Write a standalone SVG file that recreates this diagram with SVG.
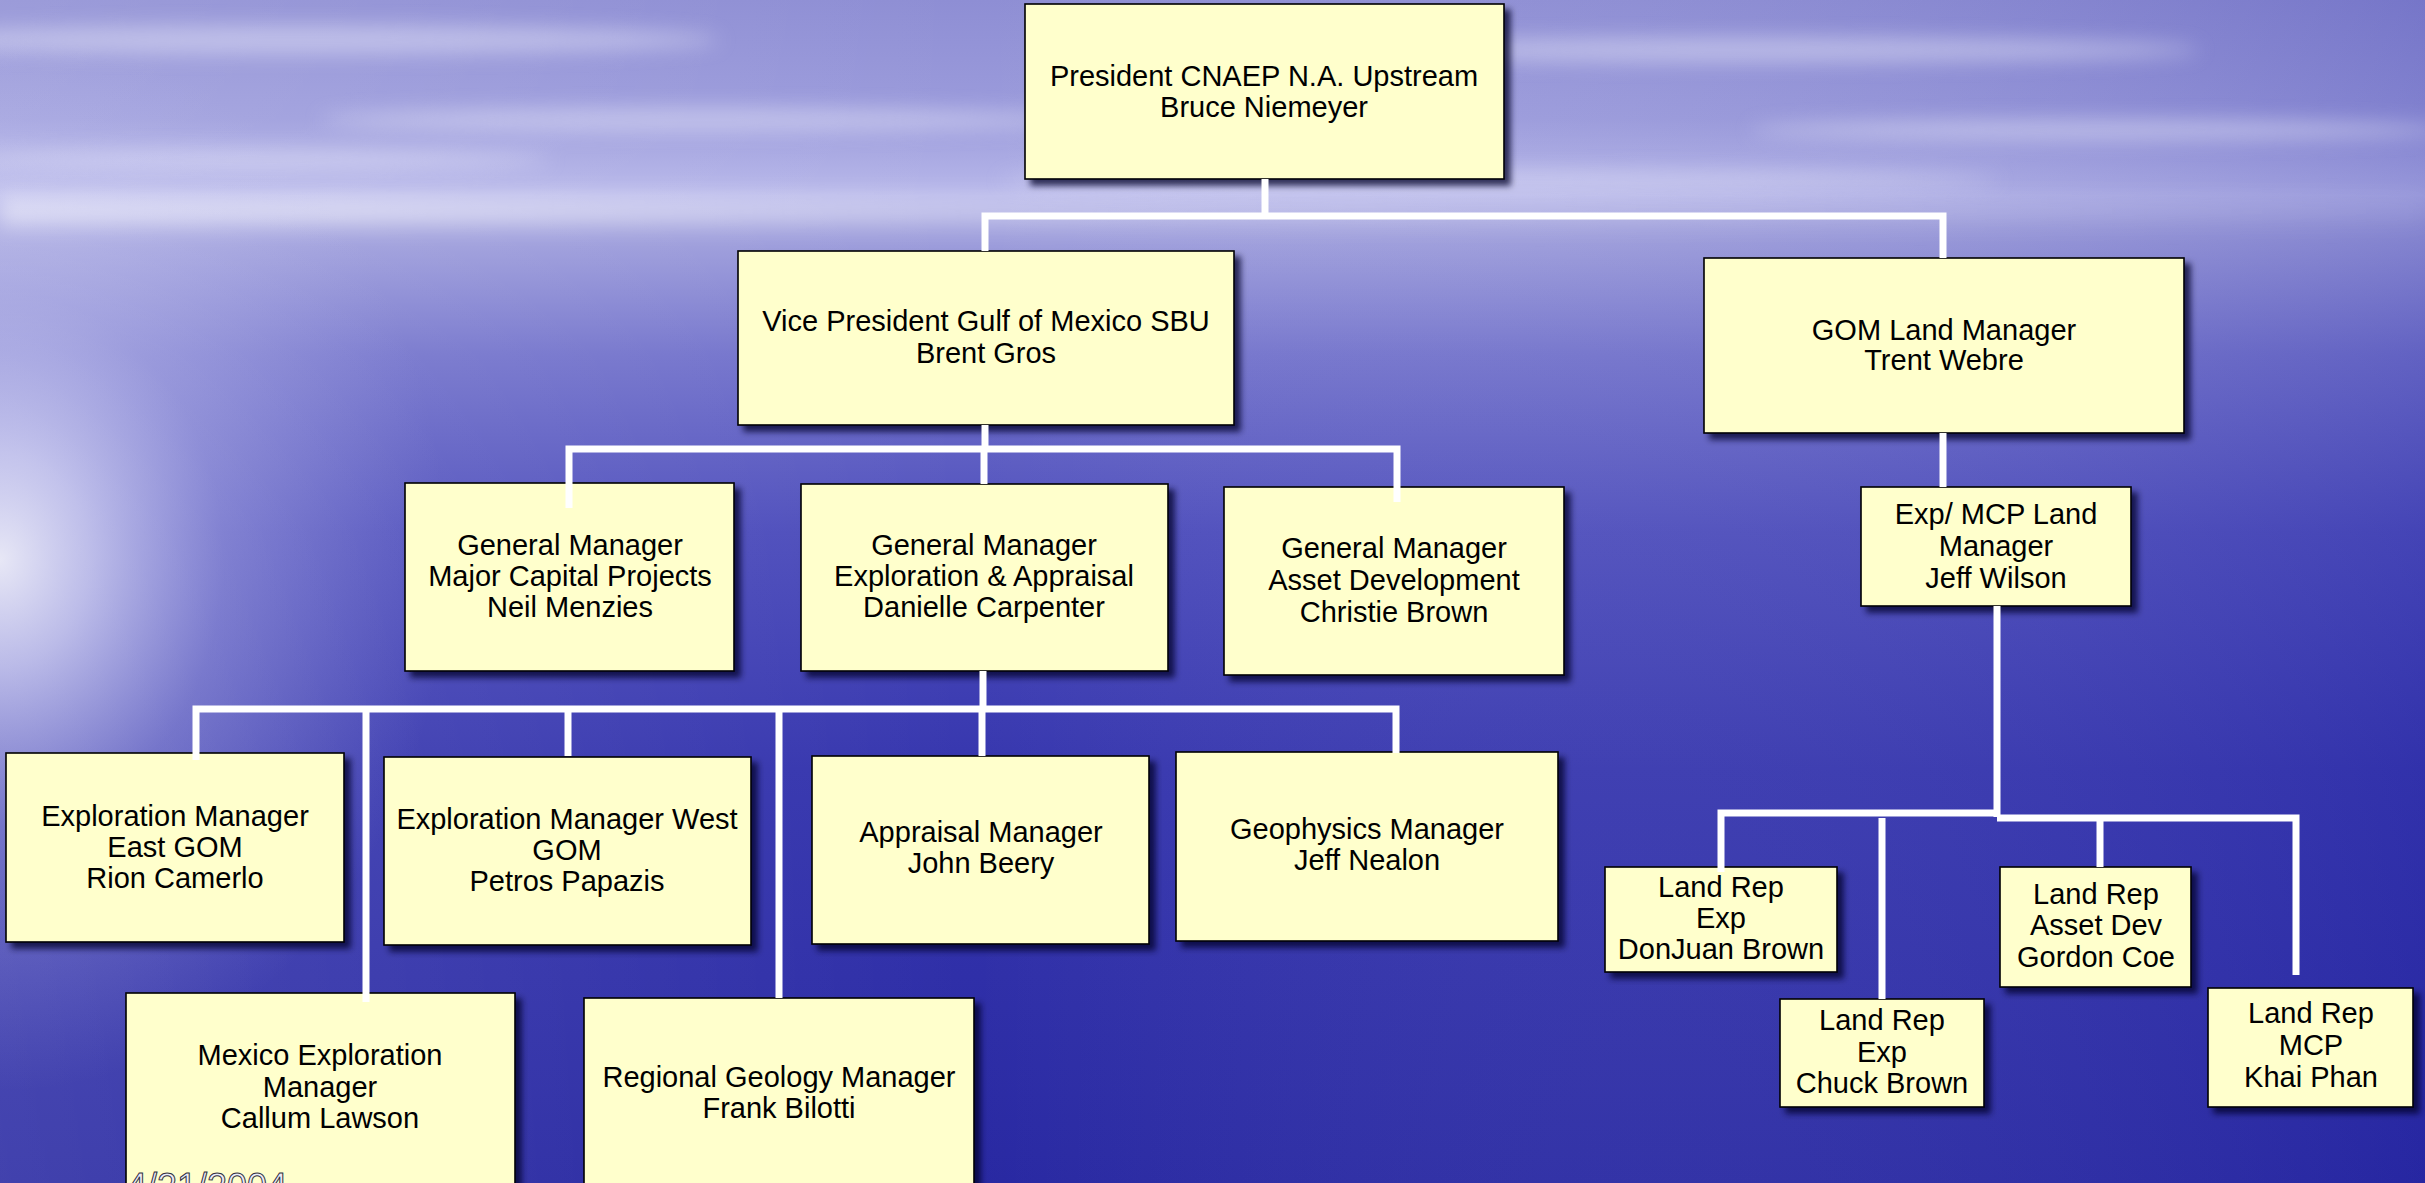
<svg xmlns="http://www.w3.org/2000/svg" width="2425" height="1183" viewBox="0 0 2425 1183">
  <defs>
    <linearGradient id="sky" x1="0" y1="0" x2="0" y2="1">
      <stop offset="0" stop-color="#8e8ed4"/>
      <stop offset="0.10" stop-color="#9c9cdc"/>
      <stop offset="0.165" stop-color="#b8b8ea"/>
      <stop offset="0.19" stop-color="#a4a4de"/>
      <stop offset="0.30" stop-color="#7474cc"/>
      <stop offset="0.45" stop-color="#4e4ebc"/>
      <stop offset="0.65" stop-color="#3636ae"/>
      <stop offset="1" stop-color="#2828a2"/>
    </linearGradient>
    <linearGradient id="side" x1="0" y1="0" x2="1" y2="0">
      <stop offset="0" stop-color="#ffffff" stop-opacity="0.12"/>
      <stop offset="0.4" stop-color="#ffffff" stop-opacity="0"/>
      <stop offset="1" stop-color="#2020a0" stop-opacity="0.22"/>
    </linearGradient>
    <radialGradient id="glare" cx="0" cy="560" r="560" gradientUnits="userSpaceOnUse" gradientTransform="translate(0 560) scale(0.8 0.95) translate(0 -560)">
      <stop offset="0" stop-color="#ffffff" stop-opacity="0.85"/>
      <stop offset="0.2" stop-color="#f0f0ff" stop-opacity="0.65"/>
      <stop offset="0.5" stop-color="#d4d4f6" stop-opacity="0.3"/>
      <stop offset="1" stop-color="#c0c0f0" stop-opacity="0"/>
    </radialGradient>
    <linearGradient id="horizon" x1="0" y1="0" x2="1" y2="0">
      <stop offset="0" stop-color="#ffffff" stop-opacity="0.55"/>
      <stop offset="0.5" stop-color="#ffffff" stop-opacity="0.2"/>
      <stop offset="1" stop-color="#ffffff" stop-opacity="0.05"/>
    </linearGradient>
    <filter id="blur" x="-20%" y="-200%" width="140%" height="500%">
      <feGaussianBlur stdDeviation="10"/>
    </filter>
    <filter id="shadow" x="-10%" y="-10%" width="125%" height="130%">
      <feDropShadow dx="6" dy="6" stdDeviation="3" flood-color="#00002a" flood-opacity="0.75"/>
    </filter>
    <style>
      .box { fill: #ffffcc; stroke: #000000; stroke-width: 1.6; filter: url(#shadow); }
      .t { font-family: "Liberation Sans", Arial, sans-serif; font-size: 29px; fill: #000000; text-anchor: middle; }
      .con { fill: none; stroke: #ffffff; stroke-width: 7; stroke-linejoin: miter; stroke-linecap: butt; }
      .date { font-family: "Liberation Sans", Arial, sans-serif; font-size: 36px; fill: #ececf8; stroke: #303040; stroke-width: 1; }
    </style>
  </defs>

  <g id="background">
    <rect x="0" y="0" width="2425" height="1183" fill="url(#sky)"/>
    <rect x="0" y="0" width="2425" height="1183" fill="url(#side)"/>
    <g filter="url(#blur)" fill="#e4e4f8" opacity="0.5">
      <ellipse cx="300" cy="40" rx="420" ry="14"/>
      <ellipse cx="700" cy="120" rx="380" ry="12"/>
      <ellipse cx="250" cy="160" rx="300" ry="10"/>
      <ellipse cx="1750" cy="50" rx="450" ry="12"/>
      <ellipse cx="2100" cy="130" rx="350" ry="10"/>
      <ellipse cx="1500" cy="180" rx="500" ry="9"/>
    </g>
    <rect x="0" y="196" width="2425" height="30" fill="url(#horizon)" filter="url(#blur)"/>
    <rect x="0" y="0" width="2425" height="1183" fill="url(#glare)"/>
  </g>

  <g id="nodes">
    <g id="president">
      <rect class="box" x="1025" y="4" width="479" height="175"/>
      <text class="t" x="1264" y="86">President CNAEP N.A. Upstream</text>
      <text class="t" x="1264" y="117">Bruce Niemeyer</text>
    </g>
    <g id="vp-gom">
      <rect class="box" x="738" y="251" width="496" height="174"/>
      <text class="t" x="986" y="331">Vice President Gulf of Mexico SBU</text>
      <text class="t" x="986" y="363">Brent Gros</text>
    </g>
    <g id="gom-land">
      <rect class="box" x="1704" y="258" width="480" height="175"/>
      <text class="t" x="1944" y="340">GOM Land Manager</text>
      <text class="t" x="1944" y="370">Trent Webre</text>
    </g>
    <g id="exp-mcp-land">
      <rect class="box" x="1861" y="487" width="270" height="119"/>
      <text class="t" x="1996" y="524">Exp/ MCP Land</text>
      <text class="t" x="1996" y="556">Manager</text>
      <text class="t" x="1996" y="588">Jeff Wilson</text>
    </g>
    <g id="gm-mcp">
      <rect class="box" x="405" y="483" width="329" height="188"/>
      <text class="t" x="570" y="555">General Manager</text>
      <text class="t" x="570" y="586">Major Capital Projects</text>
      <text class="t" x="570" y="617">Neil Menzies</text>
    </g>
    <g id="gm-ea">
      <rect class="box" x="801" y="484" width="367" height="187"/>
      <text class="t" x="984" y="555">General Manager</text>
      <text class="t" x="984" y="586">Exploration &amp; Appraisal</text>
      <text class="t" x="984" y="617">Danielle Carpenter</text>
    </g>
    <g id="gm-ad">
      <rect class="box" x="1224" y="487" width="340" height="188"/>
      <text class="t" x="1394" y="558">General Manager</text>
      <text class="t" x="1394" y="590">Asset Development</text>
      <text class="t" x="1394" y="622">Christie Brown</text>
    </g>
    <g id="exp-east">
      <rect class="box" x="6" y="753" width="338" height="189"/>
      <text class="t" x="175" y="826">Exploration Manager</text>
      <text class="t" x="175" y="857">East GOM</text>
      <text class="t" x="175" y="888">Rion Camerlo</text>
    </g>
    <g id="exp-west">
      <rect class="box" x="384" y="757" width="367" height="188"/>
      <text class="t" x="567" y="829">Exploration Manager West</text>
      <text class="t" x="567" y="860">GOM</text>
      <text class="t" x="567" y="891">Petros Papazis</text>
    </g>
    <g id="appraisal">
      <rect class="box" x="812" y="756" width="337" height="188"/>
      <text class="t" x="981" y="842">Appraisal Manager</text>
      <text class="t" x="981" y="873">John Beery</text>
    </g>
    <g id="geophysics">
      <rect class="box" x="1176" y="752" width="382" height="189"/>
      <text class="t" x="1367" y="839">Geophysics Manager</text>
      <text class="t" x="1367" y="870">Jeff Nealon</text>
    </g>
    <g id="mexico">
      <rect class="box" x="126" y="993" width="389" height="200"/>
      <text class="t" x="320" y="1065">Mexico Exploration</text>
      <text class="t" x="320" y="1097">Manager</text>
      <text class="t" x="320" y="1128">Callum Lawson</text>
    </g>
    <g id="regional">
      <rect class="box" x="584" y="998" width="390" height="200"/>
      <text class="t" x="779" y="1087">Regional Geology Manager</text>
      <text class="t" x="779" y="1118">Frank Bilotti</text>
    </g>
    <g id="landrep-donjuan">
      <rect class="box" x="1605" y="867" width="232" height="105"/>
      <text class="t" x="1721" y="897">Land Rep</text>
      <text class="t" x="1721" y="928">Exp</text>
      <text class="t" x="1721" y="959">DonJuan Brown</text>
    </g>
    <g id="landrep-chuck">
      <rect class="box" x="1780" y="999" width="204" height="108"/>
      <text class="t" x="1882" y="1030">Land Rep</text>
      <text class="t" x="1882" y="1062">Exp</text>
      <text class="t" x="1882" y="1093">Chuck Brown</text>
    </g>
    <g id="landrep-gordon">
      <rect class="box" x="2000" y="867" width="191" height="120"/>
      <text class="t" x="2096" y="904">Land Rep</text>
      <text class="t" x="2096" y="935">Asset Dev</text>
      <text class="t" x="2096" y="967">Gordon Coe</text>
    </g>
    <g id="landrep-khai">
      <rect class="box" x="2208" y="988" width="205" height="119"/>
      <text class="t" x="2311" y="1023">Land Rep</text>
      <text class="t" x="2311" y="1055">MCP</text>
      <text class="t" x="2311" y="1087">Khai Phan</text>
    </g>
  </g>

  <g id="connectors">
    <path class="con" d="M1265 179 V216"/>
    <path class="con" d="M985 251 V216 H1943 V258"/>
    <path class="con" d="M985 425 V449"/>
    <path class="con" d="M569 508 V449 H1397 V502"/>
    <path class="con" d="M984 449 V484"/>
    <path class="con" d="M1943 433 V487"/>
    <path class="con" d="M983 671 V709"/>
    <path class="con" d="M196 760 V709 H1396 V753"/>
    <path class="con" d="M366 709 V1002"/>
    <path class="con" d="M568 709 V756"/>
    <path class="con" d="M779 709 V998"/>
    <path class="con" d="M982 709 V756"/>
    <path class="con" d="M1997 606 V817"/>
    <path class="con" d="M1721 872 V813 H1997"/>
    <path class="con" d="M1997 818 H2296 V975"/>
    <path class="con" d="M1882 818 V999"/>
    <path class="con" d="M2100 818 V867"/>
  </g>

  <text class="date" x="127" y="1199">4/21/2004</text>
</svg>
